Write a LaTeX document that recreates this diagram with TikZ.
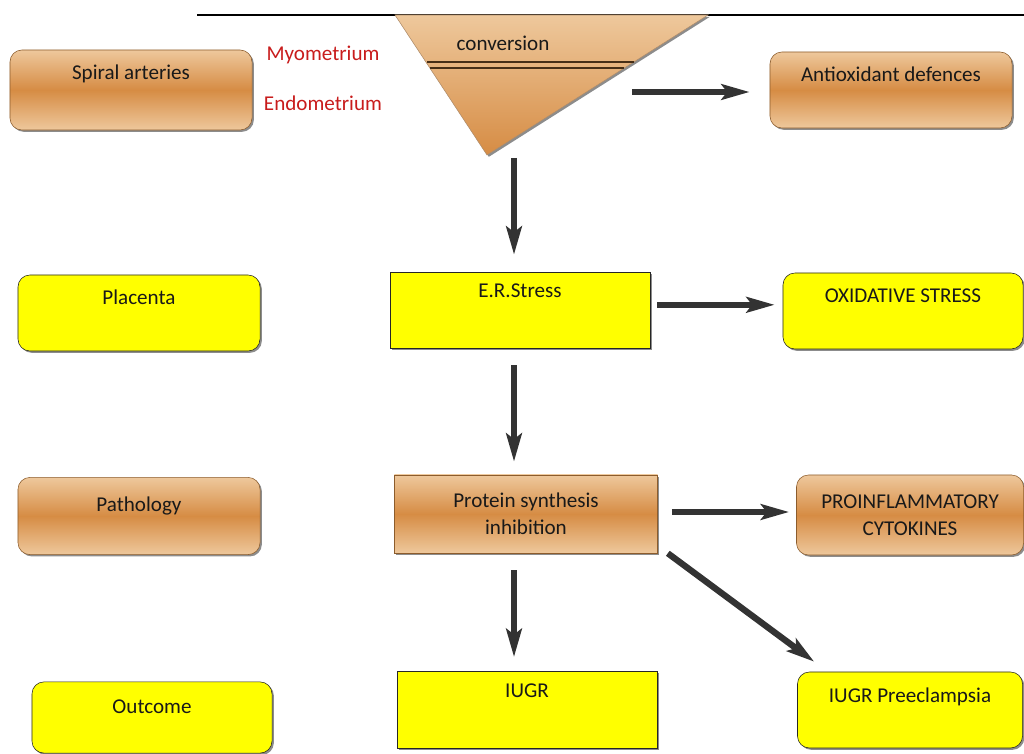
\documentclass[tikz,border=0pt]{standalone}
\usepackage{fontspec}
\setmainfont{Carlito}
\usetikzlibrary{arrows.meta,shadows}

\definecolor{tanlight}{RGB}{238,200,156}
\definecolor{tanmid}{RGB}{214,140,68}
\definecolor{tanedge}{RGB}{140,92,44}
\definecolor{boxyellow}{RGB}{255,255,0}
\definecolor{layerred}{RGB}{200,28,28}

\tikzset{
  every node/.style={font=\fontsize{15}{19.2}\selectfont, text=black!90},
  boxshadow/.style={drop shadow={shadow xshift=1.3pt, shadow yshift=-1.3pt, fill=black!75, opacity=.6}},
  tansquare/.style={draw=tanedge, top color=tanlight, bottom color=tanlight, middle color=tanmid, boxshadow},
  tanbox/.style={tansquare, rounded corners=0.3cm},
  yelsquare/.style={draw=black!85, fill=boxyellow, boxshadow},
  yelround/.style={yelsquare, rounded corners=0.3cm},
  rowbox/.style={inner ysep=0pt, text height=0.75cm, text depth=1.15cm},
  twoline/.style={align=center, inner ysep=0pt, minimum height=1.95cm},
  bigarrow/.style={line width=4.5pt, draw=black!80, -{Stealth[length=20pt,width=11pt,inset=4pt]}}
}

\begin{document}
\begin{tikzpicture}[x=0.025cm, y=-0.025cm]
  \useasboundingbox (0,0) rectangle (1024,754);

  % layers of the wall
  \draw[line width=0.8pt] (197,15) -- (1024,15);
  \coordinate (tl)  at (395,15);
  \coordinate (tr)  at (708,15);
  \coordinate (tip) at (487,155);
  \shade[draw=tanedge!70, top color=tanlight, bottom color=tanmid, boxshadow] (tl) -- (tr) -- (tip) -- cycle;
  \draw[tanedge!50!black, line width=1pt] (427,62) -- (634,62);
  \draw[tanedge!50!black, line width=1pt] (430,68) -- (624,68);
  \node (conv) at (503,43) {conversion};
  \node[text=layerred] (myo)  at (323,55)  {Myometrium};
  \node[text=layerred] (endo) at (323,103) {Endometrium};

  % left column
  \node[tanbox, rowbox, text depth=1.25cm, minimum width=6.05cm] (spiral) at (131,90) {Spiral arteries};
  \node[yelround, rowbox, minimum width=6.05cm] (placenta) at (139,313) {Placenta};
  \node[tanbox, rowbox, text height=0.85cm, text depth=1.08cm, minimum width=6.05cm] (patho) at (139,516) {Pathology};
  \node[yelround, rowbox, text height=0.78cm, text depth=1.0cm, minimum width=6cm] (outcome) at (152,717.5) {Outcome};

  % middle column
  \node[yelsquare, rowbox, text height=0.65cm, text depth=1.25cm, minimum width=6.5cm] (erstress) at (520,310) {E.R.Stress};
  \node[tansquare, twoline, minimum width=6.575cm] (protein) at (526,514) {Protein synthesis\\inhibition};
  \node[yelsquare, rowbox, text height=0.65cm, text depth=1.28cm, minimum width=6.5cm] (iugr) at (527,710) {IUGR};

  % right column
  \node[tanbox, rowbox, minimum width=6.05cm] (antiox) at (891,90) {Antioxidant defences};
  \node[yelround, rowbox, minimum width=6cm] (oxid) at (903,311) {OXIDATIVE STRESS};
  \node[tanbox, twoline, minimum height=2cm, minimum width=5.675cm] (proinfl) at (910,515) {PROINFLAMMATORY\\CYTOKINES};
  \node[yelround, rowbox, minimum width=5.625cm] (iugrpre) at (910,710) {IUGR Preeclampsia};

  % arrows
  \coordinate (convout)  at (632,92);
  \coordinate (convdown) at (514,158);
  \draw[bigarrow, shorten >=0.5cm] (convout) -- (convout -| antiox.west);
  \draw[bigarrow, shorten >=0.425cm] (convdown) -- (convdown |- erstress.north);
  \draw[bigarrow, shorten <=0.175cm, shorten >=0.2cm] ([yshift=0.13cm]erstress.east) -- ([yshift=0.13cm]erstress.east -| oxid.west);
  \draw[bigarrow, shorten <=0.425cm, shorten >=0.325cm] (convdown |- erstress.south) -- (convdown |- protein.north);
  \draw[bigarrow, shorten <=0.35cm, shorten >=0.175cm] ([yshift=0.05cm]protein.east) -- ([yshift=0.05cm]protein.east -| proinfl.west);
  \draw[bigarrow, shorten <=0.425cm, shorten >=0.35cm] (convdown |- protein.south) -- (convdown |- iugr.north);
  \draw[bigarrow] ([xshift=0.25cm]protein.south east) -- ([xshift=0.425cm, yshift=0.25cm]iugrpre.north west);
\end{tikzpicture}
\end{document}
